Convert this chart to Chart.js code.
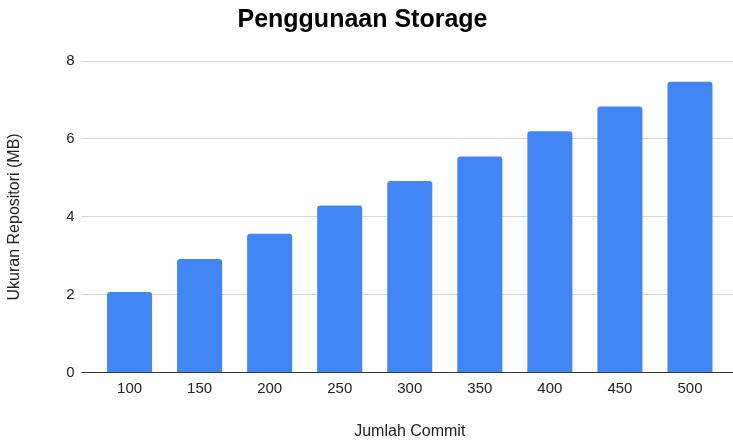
<!DOCTYPE html>
<html>
<head>
<meta charset="utf-8">
<script src="https://cdn.jsdelivr.net/npm/chart.js@4/dist/chart.umd.min.js"></script>
<style>
  html, body { margin: 0; padding: 0; background: #fff; }
  #wrap { width: 733px; height: 440px; }
</style>
</head>
<body>
<div id="wrap"><canvas id="c" width="733" height="440"></canvas></div>
<script>
const categories = ['100', '150', '200', '250', '300', '350', '400', '450', '500'];
const storageMB = [2.07, 2.92, 3.57, 4.29, 4.92, 5.55, 6.20, 6.83, 7.47];
const yTicks = [0, 2, 4, 6, 8];

const chartTitle = 'Penggunaan Storage';
const xTitle = 'Jumlah Commit';
const yTitle = 'Ukuran Repositori (MB)';

const FONT = "'Liberation Sans', Arial, sans-serif";
const GRID = '#d6d6d6';
const AXIS = '#333333';

const extendGrid = {
  id: 'extendGrid',
  afterDatasetsDraw(chart) {
    const y = chart.scales.y;
    const ctx = chart.ctx;
    const ca = chart.chartArea;
    ctx.save();
    ctx.lineWidth = 1;
    y.ticks.forEach(t => {
      const py = Math.round(y.getPixelForValue(t.value) - 0.5) + 0.5;
      ctx.strokeStyle = t.value === 0 ? AXIS : GRID;
      ctx.beginPath();
      ctx.moveTo(t.value === 0 ? ca.left : ca.right, py);
      ctx.lineTo(chart.width, py);
      ctx.stroke();
    });
    ctx.restore();
  }
};

new Chart(document.getElementById('c'), {
  type: 'bar',
  data: {
    labels: categories,
    datasets: [{
      data: storageMB,
      backgroundColor: '#4285F4',
      borderWidth: 0,
      borderRadius: { topLeft: 3, topRight: 3, bottomLeft: 0, bottomRight: 0 },
      borderSkipped: false,
      categoryPercentage: 1.0,
      barPercentage: 0.643
    }]
  },
  options: {
    responsive: false,
    animation: false,
    devicePixelRatio: 1,
    layout: { padding: { left: 0, right: 8, top: 0, bottom: 0 } },
    plugins: {
      legend: { display: false },
      tooltip: { enabled: false },
      title: {
        display: true,
        text: chartTitle,
        color: '#000',
        font: { family: FONT, size: 25, weight: 'bold' },
        padding: { top: 5, bottom: 26 }
      }
    },
    scales: {
      x: {
        grid: { display: false },
        border: { display: false },
        ticks: {
          color: '#222',
          font: { family: FONT, size: 15 },
          padding: -1,
          maxRotation: 0
        },
        title: {
          display: true,
          text: xTitle,
          color: '#222',
          font: { family: FONT, size: 16 },
          padding: { top: 25, bottom: -1 }
        }
      },
      y: {
        min: 0,
        max: 8,
        afterBuildTicks(scale) { scale.ticks = yTicks.map(v => ({ value: v })); },
        grid: {
          color: ctx => (ctx.tick && ctx.tick.value === 0) ? AXIS : GRID,
          lineWidth: 1,
          drawTicks: true,
          tickLength: 13
        },
        border: { display: false },
        ticks: {
          color: '#222',
          font: { family: FONT, size: 15 },
          padding: 7
        },
        title: {
          display: true,
          text: yTitle,
          color: '#222',
          font: { family: FONT, size: 16 },
          padding: { top: 5, bottom: 35 }
        }
      }
    }
  },
  plugins: [extendGrid]
});
</script>
</body>
</html>
